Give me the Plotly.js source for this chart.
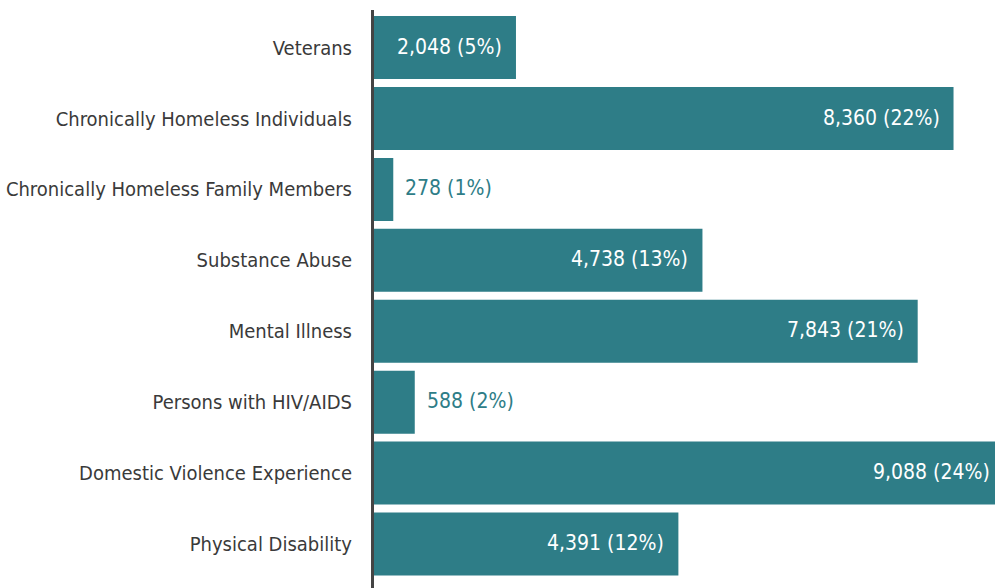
<!DOCTYPE html>
<html>
<head>
<meta charset="utf-8">
<script src="https://cdn.plot.ly/plotly-3.0.1.min.js"></script>
<style>
html, body { margin: 0; padding: 0; overflow: hidden; background: #fff; }
#chart { width: 1004px; height: 588px; }
</style>
</head>
<body>
<div id="chart"></div>
<script>
const categories = [
  "Veterans",
  "Chronically Homeless Individuals",
  "Chronically Homeless Family Members",
  "Substance Abuse",
  "Mental Illness",
  "Persons with HIV/AIDS",
  "Domestic Violence Experience",
  "Physical Disability"
];
const counts = [2048, 8360, 278, 4738, 7843, 588, 9088, 4391];
const percents = [5, 22, 1, 13, 21, 2, 24, 12];

const barColor = "#2e7d87";
const fontFamily = "'DejaVu Sans Condensed', 'DejaVu Sans', sans-serif";
const labels = counts.map((v, i) => v.toLocaleString("en-US") + " (" + percents[i] + "%)");

const trace = {
  type: "bar",
  orientation: "h",
  y: categories,
  x: counts,
  marker: { color: barColor },
  hoverinfo: "skip"
};

const insideLimit = 1000;
const annotations = counts.map((v, i) => {
  const inside = v >= insideLimit;
  return {
    x: v,
    y: categories[i],
    xref: "x",
    yref: "y",
    text: labels[i],
    showarrow: false,
    xanchor: inside ? "right" : "left",
    xshift: inside ? -12 : 10,
    yshift: 1,
    font: { family: fontFamily, size: 21, color: inside ? "#ffffff" : barColor }
  };
});

const layout = {
  width: 1004,
  height: 588,
  margin: { l: 374, r: 0, t: 10, b: 0, pad: 0 },
  paper_bgcolor: "#ffffff",
  plot_bgcolor: "#ffffff",
  bargap: 0.112,
  showlegend: false,
  font: { family: fontFamily, size: 20, color: "#3a3a3a" },
  xaxis: {
    range: [0, Math.max(...counts)],
    visible: false,
    showgrid: false,
    zeroline: false,
    fixedrange: true
  },
  yaxis: {
    type: "category",
    range: [7.62, -0.53],
    showline: true,
    linecolor: "#444444",
    linewidth: 3,
    ticks: "",
    showgrid: false,
    zeroline: false,
    ticklabelstandoff: 15,
    tickfont: { family: fontFamily, size: 20, color: "#3a3a3a" },
    fixedrange: true
  },
  annotations: annotations
};

Plotly.newPlot("chart", [trace], layout, { displayModeBar: false, staticPlot: true });
</script>
</body>
</html>
